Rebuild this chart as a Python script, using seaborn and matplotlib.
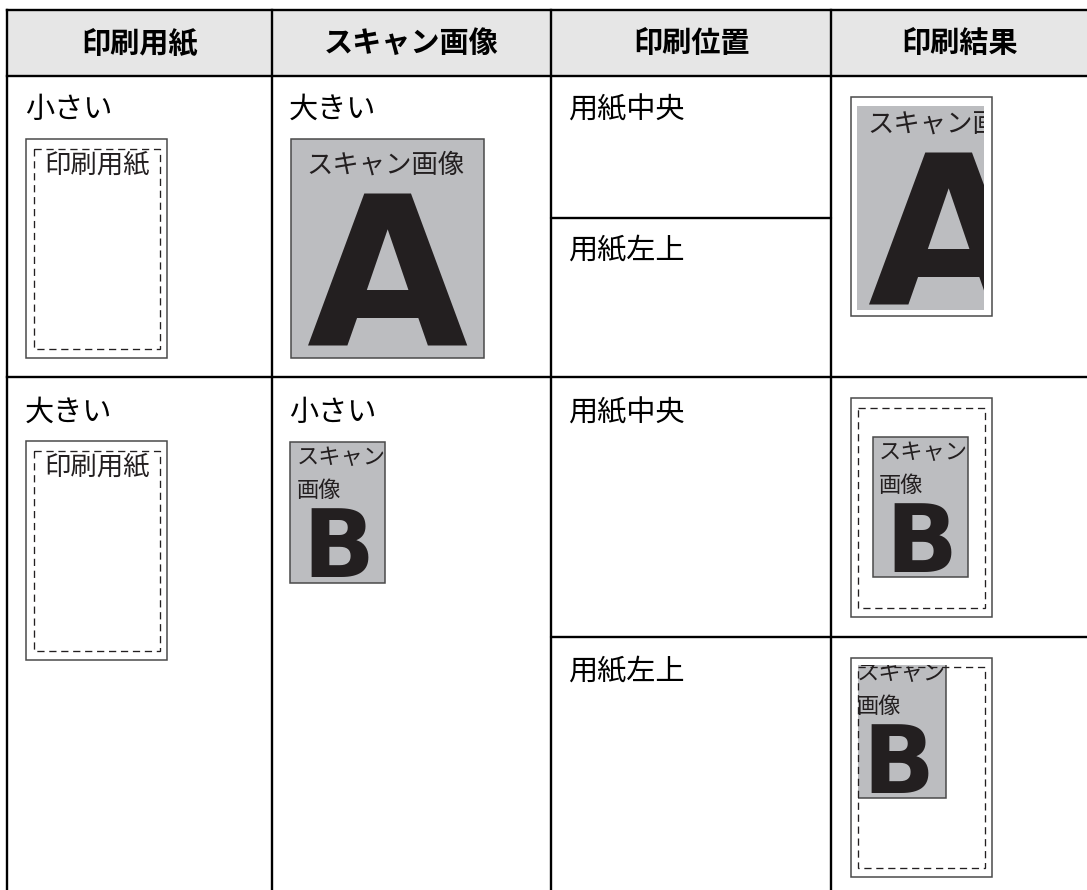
import matplotlib
matplotlib.use("Agg")
import matplotlib.pyplot as plt
from matplotlib.patches import Rectangle
from matplotlib.transforms import Bbox, TransformedBbox
import seaborn as sns

# ---- content ----
headers = ["印刷用紙", "スキャン画像", "印刷位置", "印刷結果"]
paper_sizes = ["小さい", "大きい"]
scan_sizes = ["大きい", "小さい"]
positions = ["用紙中央", "用紙左上"]
paper_label = "印刷用紙"
scan_label_big = "スキャン画像"
scan_label_small = ["スキャン", "画像"]
scan_letters = ["A", "B"]

sns.set_theme(style="white")
plt.rcParams["font.family"] = ["Noto Sans CJK JP", "DejaVu Sans"]
plt.rcParams["lines.scale_dashes"] = False

W, H = 1087, 890
fig = plt.figure(figsize=(W / 100, H / 100), dpi=100)
ax = fig.add_axes([0, 0, 1, 1])
ax.set_xlim(0, W)
ax.set_ylim(H, 0)
ax.axis("off")

INK = "#231f20"
GRAY = "#bcbdc0"
EDGE = "#4a4a4a"
LINE_W = 1.7
LETTER_FONT = ["DejaVu Sans"]

# ---- table grid ----
col_x = [7, 272, 551, 831]
top, head_bot, row_div, bottom = 10, 76, 377, 890
ax.add_patch(Rectangle((col_x[0], top), W - col_x[0], head_bot - top,
                       fc="#e6e6e6", ec="none", zorder=0))
for y in (top, head_bot, row_div):
    ax.plot([col_x[0], W], [y, y], color="black", lw=LINE_W, solid_capstyle="projecting", zorder=5)
for x in col_x:
    ax.plot([x, x], [top, bottom], color="black", lw=LINE_W, solid_capstyle="projecting", zorder=5)
ax.plot([col_x[2], col_x[3]], [218, 218], color="black", lw=LINE_W, zorder=5)
ax.plot([col_x[2], W], [637, 637], color="black", lw=LINE_W, zorder=5)

col_right = col_x[1:] + [W]
for i, h in enumerate(headers):
    cx = (col_x[i] + col_right[i]) / 2
    ax.text(cx, (top + head_bot) / 2, h, ha="center", va="center",
            fontsize=21, fontweight="bold", color="black")

LABEL_FS = 21
row_label_y = [95, 398]
for r in range(2):
    ax.text(25, row_label_y[r], paper_sizes[r], ha="left", va="top", fontsize=LABEL_FS, color="black")
    ax.text(289, row_label_y[r], scan_sizes[r], ha="left", va="top", fontsize=LABEL_FS, color="black")
pos_label_y = [[95, 236], [398, 657]]
for r in range(2):
    for k in range(2):
        ax.text(568.5, pos_label_y[r][k], positions[k], ha="left", va="top",
                fontsize=LABEL_FS, color="black")


def rect(x0, y0, x1, y1, **kw):
    return Rectangle((x0, y0), x1 - x0, y1 - y0, transform=ax.transData, **kw)


def draw_paper(x0, y0, label=True, dashed=True, dash_z=4):
    ax.add_patch(rect(x0, y0, x0 + 141, y0 + 219, fc="white", ec=EDGE, lw=1.1, zorder=1))
    if dashed:
        ax.add_patch(rect(x0 + 7.5, y0 + 9.5, x0 + 134, y0 + 210, fc="none", ec=INK,
                          lw=0.95, ls=(0, (5.2, 3.4)), zorder=dash_z))
    if label:
        ax.text(x0 + 17.5, y0 + 12.5, paper_label, ha="left", va="top",
                fontsize=19, color=INK, zorder=3)


def clip_text(t, clip_ext):
    if clip_ext is None:
        return
    t.set_clip_on(True)
    t.set_clip_path(None)
    t.set_clip_box(TransformedBbox(Bbox.from_extents(*clip_ext), ax.transData))


def draw_scan(x0, y0, big, clip_ext=None, edge=True):
    if big:
        w, h = 193, 219
    else:
        w, h = 95, 140.5
    box = rect(x0, y0, x0 + w, y0 + h, fc=GRAY, ec=EDGE if edge else "none",
               lw=1.1, zorder=2)
    ax.add_patch(box)
    if clip_ext is not None:
        box.set_clip_path(rect(*clip_ext, fc="none", ec="none"))
    texts = []
    if big:
        texts.append(ax.text(x0 + 15.5, y0 + 12.5, scan_label_big, ha="left", va="top",
                             fontsize=19, color=INK, zorder=3))
        texts.append(ax.text(x0 + 97, y0 + 207, scan_letters[0], ha="center", va="baseline",
                             fontsize=150, fontweight="bold", family=LETTER_FONT,
                             color=INK, zorder=3))
    else:
        texts.append(ax.text(x0 + 6, y0 + 4, scan_label_small[0], ha="left", va="top",
                             fontsize=16, color=INK, zorder=3))
        texts.append(ax.text(x0 + 6, y0 + 37, scan_label_small[1], ha="left", va="top",
                             fontsize=16, color=INK, zorder=3))
        texts.append(ax.text(x0 + 48, y0 + 135, scan_letters[1], ha="center", va="baseline",
                             fontsize=68, fontweight="bold", family=LETTER_FONT,
                             color=INK, zorder=3))
    for t in texts:
        clip_text(t, clip_ext)


# row 1
draw_paper(26.3, 139.3)
draw_scan(290.5, 139.3, big=True)
draw_paper(850.5, 96.5, label=False, dashed=False)
draw_scan(851.4, 98.3, big=True, clip_ext=(856.8, 106, 983.7, 310), edge=False)

# row 2
draw_paper(26.3, 441)
draw_scan(290.4, 442.3, big=False)
draw_paper(850.5, 398.3, label=False)
draw_scan(873.2, 436.7, big=False)
draw_paper(850.5, 657.7, label=False)
draw_scan(850.5, 657.7, big=False, clip_ext=(857.5, 665, 984, 869))

fig.savefig("out.png", dpi=100, facecolor="white")
